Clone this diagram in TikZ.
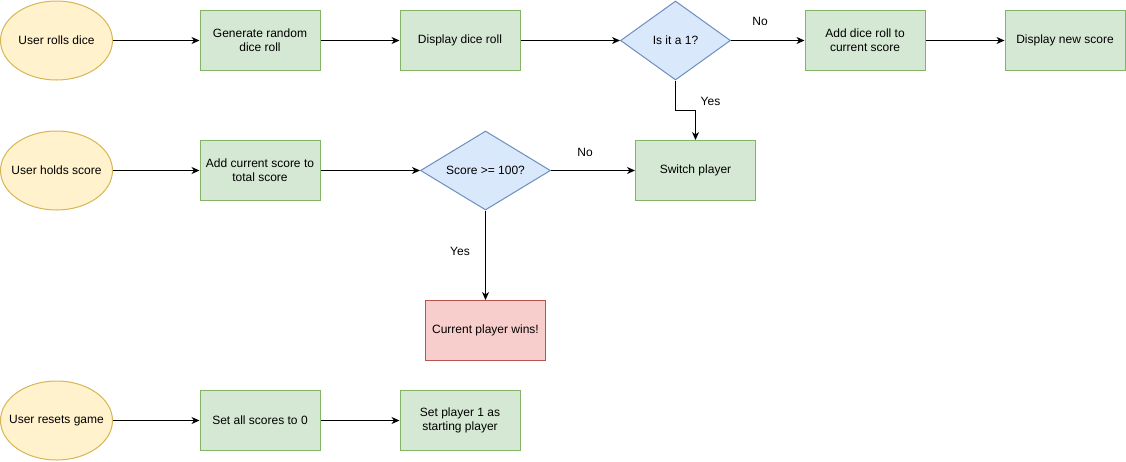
\documentclass[tikz,border=0pt]{standalone}
\usepackage{fontspec}
\setmainfont{Liberation Sans}
\usetikzlibrary{shapes.geometric,arrows.meta}
\definecolor{gfill}{HTML}{D5E8D4}
\definecolor{gline}{HTML}{82B366}
\definecolor{yfill}{HTML}{FFF2CC}
\definecolor{yline}{HTML}{D6B656}
\definecolor{bfill}{HTML}{DAE8FC}
\definecolor{bline}{HTML}{6C8EBF}
\definecolor{rfill}{HTML}{F8CECC}
\definecolor{rline}{HTML}{B85450}
\tikzset{
  every node/.style={font=\fontsize{12}{14}\selectfont, align=center},
  startnode/.style={ellipse, draw=yline, fill=yfill, line width=1pt, minimum width=112pt, minimum height=79pt, inner sep=0pt},
  procbox/.style={rectangle, draw=gline, fill=gfill, line width=1pt, minimum width=120pt, minimum height=60pt, inner sep=0pt},
  endbox/.style={rectangle, draw=rline, fill=rfill, line width=1pt, minimum width=120pt, minimum height=60pt, inner sep=0pt},
  decision/.style={diamond, draw=bline, fill=bfill, line width=1pt, minimum width=110pt, minimum height=79pt, inner sep=0pt, aspect=1.39},
  decision2/.style={decision, minimum width=130pt, aspect=1.645},
  conn/.style={draw=black, line width=1pt, -{Stealth[length=8pt,width=7pt,inset=2.5pt]}},
  lbl/.style={inner sep=0pt}
}
\begin{document}
\begin{tikzpicture}[x=1pt,y=-1pt]
\useasboundingbox (0,0) rectangle (1126,461);
% row 1
\node[startnode, label={center:User rolls dice}] (roll) at (56.5,40.5) {};
\node[procbox] (gen) at (260,40.5) {Generate random\\dice roll};
\node[procbox] (disp) at (460,40.5) {Display dice roll};
\node[decision] (isone) at (675.5,40.5) {Is it a 1?};
\node[procbox] (add) at (865,40.5) {Add dice roll to\\current score};
\node[procbox] (dnew) at (1065,40.5) {Display new score};
% row 2
\node[startnode, label={center:User holds score}] (hold) at (56.5,170.5) {};
\node[procbox] (addtot) at (260,170.5) {Add current score to\\total score};
\node[decision2] (hund) at (485.5,170.5) {Score >= 100?};
\node[procbox] (switch) at (695.5,170.5) {Switch player};
\node[endbox] (wins) at (485.5,330.5) {Current player wins!};
% row 3
\node[startnode, label={center:User resets game}] (reset) at (56.5,420.5) {};
\node[procbox] (zero) at (260,420.5) {Set all scores to 0};
\node[procbox] (p1) at (460,420.5) {Set player 1 as\\starting player};
% connectors
\draw[conn] (roll) -- (gen);
\draw[conn] (gen) -- (disp);
\draw[conn] (disp) -- (isone);
\draw[conn] (isone) -- (add);
\draw[conn] (add) -- (dnew);
\draw[conn] (isone.south) -- ++(0,30) -| (switch.north);
\draw[conn] (hold) -- (addtot);
\draw[conn] (addtot) -- (hund);
\draw[conn] (hund) -- (switch);
\draw[conn] (hund.south) -- (wins.north);
\draw[conn] (reset) -- (zero);
\draw[conn] (zero) -- (p1);
% labels
\node[lbl] (lno1) at (760,21) {No};
\node[lbl] (lyes1) at (710.5,101) {Yes};
\node[lbl] (lno2) at (585,152) {No};
\node[lbl] (lyes2) at (460,251) {Yes};
\end{tikzpicture}
\end{document}
